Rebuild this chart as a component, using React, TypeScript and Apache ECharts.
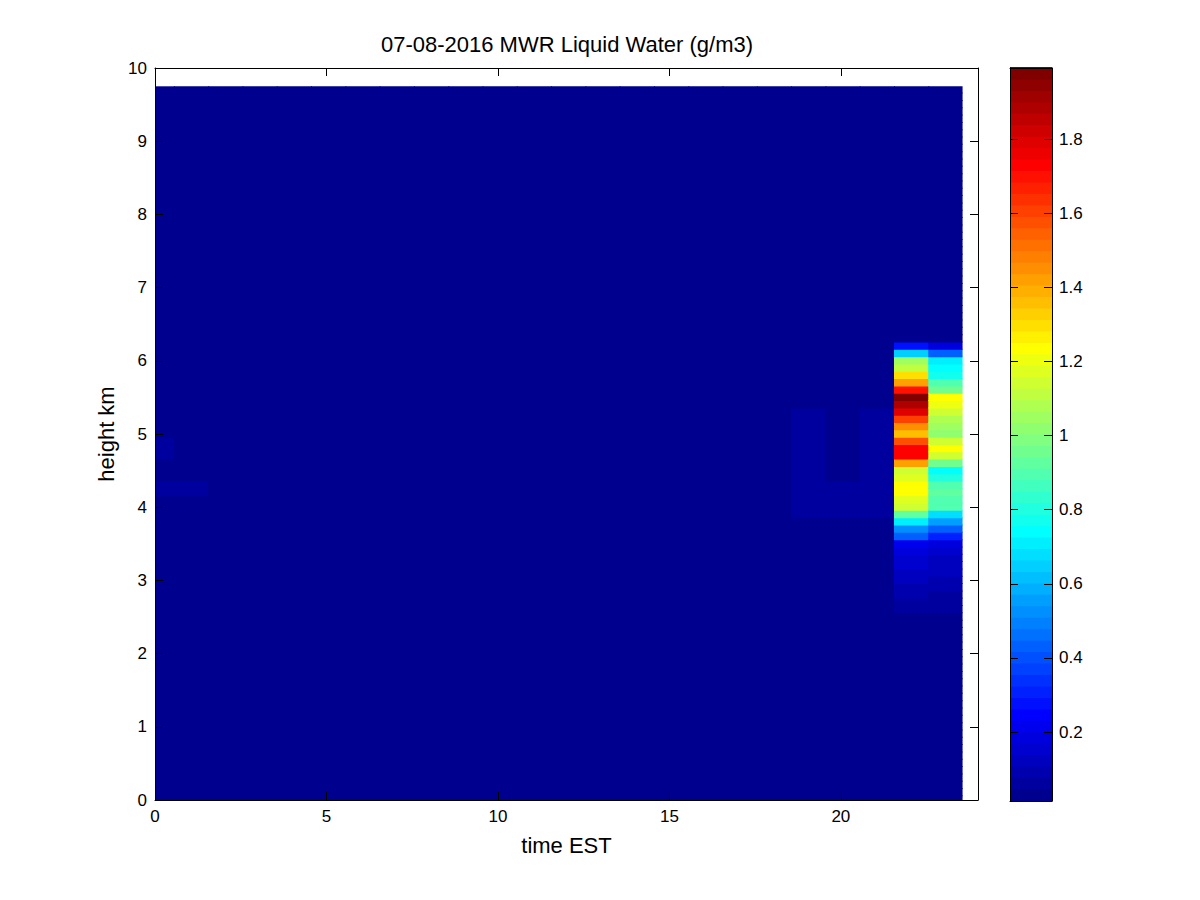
import React, { useEffect, useRef } from "react";
import * as echarts from "echarts";

const TITLE = "07-08-2016 MWR Liquid Water (g/m3)";
const X_NAME = "time EST";
const Y_NAME = "height km";

// time grid cell edges (hours EST)
const timeEdges = [
  0, 0.55, 1.55, 2.55, 3.55, 4.55, 5.55, 6.55, 7.55, 8.55, 9.55, 10.55, 11.55,
  12.55, 13.55, 14.55, 15.55, 16.55, 17.55, 18.55, 19.55, 20.55, 21.55, 22.55, 23.55,
];
// height grid cell edges (km): 0, 0.05, 0.15, ... 9.75
const heightEdges = [0, ...Array.from({ length: 98 }, (_, k) => Math.round((0.05 + 0.1 * k) * 100) / 100)];

const xTicks = [0, 5, 10, 15, 20];
const yTicks = [0, 1, 2, 3, 4, 5, 6, 7, 8, 9, 10];
const colorTicks = [0.2, 0.4, 0.6, 0.8, 1, 1.2, 1.4, 1.6, 1.8];

const cMin = 0.014;
const cMax = 1.992;
const backgroundLWC = 0.014;

// vertical profiles (g/m3), rows from 2.55 km upward in 0.1 km steps
const profileBottom = 2.55;
const lwc2155 = [
  0.06, 0.07, 0.09, 0.1, 0.12, 0.13, 0.15, 0.16, 0.18, 0.2,
  0.42, 0.52, 0.7, 0.92, 1.13, 1.18, 1.22, 1.22, 1.18, 1.15,
  1.42, 1.72, 1.72, 1.58, 1.37, 1.46, 1.62, 1.79, 1.87, 1.99,
  1.7, 1.42, 1.3, 1.12, 1.05, 0.65, 0.28,
];
const lwc2255 = [
  0.05, 0.06, 0.07, 0.09, 0.1, 0.11, 0.12, 0.13, 0.15, 0.17,
  0.3, 0.42, 0.55, 0.69, 0.88, 0.9, 0.92, 0.9, 0.8, 0.75,
  0.96, 1.15, 1.22, 1.13, 1.03, 1.05, 1.08, 1.13, 1.2, 1.22,
  0.95, 0.88, 0.76, 0.74, 0.7, 0.43, 0.17,
];

// faint patches: [time start, height bottom, height top, value]
const faintPatches = [
  [0, 4.65, 4.95, 0.05],
  [0, 4.15, 4.35, 0.05],
  [0.55, 4.15, 4.35, 0.05],
  [18.55, 3.85, 5.35, 0.05],
  [19.55, 3.85, 4.35, 0.05],
  [20.55, 3.85, 5.35, 0.05],
];

const FONT = "'Liberation Sans', Arial, Helvetica, sans-serif";

function jetColormap(m: number): string[] {
  const n = Math.ceil(m / 4);
  const u: number[] = [];
  for (let i = 1; i <= n; i++) u.push(i / n);
  for (let i = 0; i < n - 1; i++) u.push(1);
  for (let i = n; i >= 1; i--) u.push(i / n);
  const base = Math.ceil(n / 2) - (m % 4 === 1 ? 1 : 0);
  const g = u.map((_, k) => base + k + 1);
  const r = g.map((v) => v + n);
  const b = g.map((v) => v - n);
  const J = Array.from({ length: m }, () => [0, 0, 0]);
  r.filter((v) => v <= m).forEach((row, k) => (J[row - 1][0] = u[k]));
  g.filter((v) => v <= m).forEach((row, k) => (J[row - 1][1] = u[k]));
  const bKeep = b.filter((v) => v >= 1);
  bKeep.forEach((row, k) => (J[row - 1][2] = u[u.length - bKeep.length + k]));
  return J.map(([R, G, B]) => `rgb(${Math.round(R * 255)},${Math.round(G * 255)},${Math.round(B * 255)})`);
}

const near = (a: number, b: number) => Math.abs(a - b) < 1e-6;

function buildCells() {
  const nT = timeEdges.length - 1;
  const nH = heightEdges.length - 1;
  const grid = Array.from({ length: nT }, () => Array(nH).fill(backgroundLWC));
  faintPatches.forEach(([t0, h0, h1, v]) => {
    const j = timeEdges.findIndex((t) => near(t, t0));
    for (let i = 0; i < nH; i++) {
      if (heightEdges[i] >= h0 - 1e-6 && heightEdges[i + 1] <= h1 + 1e-6) grid[j][i] = v;
    }
  });
  const iBase = heightEdges.findIndex((h) => near(h, profileBottom));
  ([[21.55, lwc2155], [22.55, lwc2255]] as [number, number[]][]).forEach(([t0, prof]) => {
    const j = timeEdges.findIndex((t) => near(t, t0));
    prof.forEach((v, k) => (grid[j][iBase + k] = v));
  });
  const cells: number[][] = [];
  for (let j = 0; j < nT; j++) {
    for (let i = 0; i < nH; i++) {
      cells.push([timeEdges[j], timeEdges[j + 1], heightEdges[i], heightEdges[i + 1], grid[j][i]]);
    }
  }
  return cells;
}

export default function App() {
  const ref = useRef<HTMLDivElement>(null);
  useEffect(() => {
    if (!ref.current) return;
    const chart = echarts.init(ref.current, undefined, { renderer: "svg" });
    const jet = jetColormap(64);
    const step = (cMax - cMin) / 64;
    const pieces = jet.map((c, i) => {
      if (i === 0) return { lt: cMin + step, color: c };
      if (i === 63) return { gte: cMin + 63 * step, color: c };
      return { gte: cMin + i * step, lt: cMin + (i + 1) * step, color: c };
    });
    const barData = jet.map((_, i) => [0, 1, cMin + i * step, cMin + (i + 1) * step, cMin + (i + 0.5) * step]);

    const cells = buildCells();
    const cellRender = (params: any, api: any) => {
      const p0 = api.coord([api.value(0), api.value(2)]);
      const p1 = api.coord([api.value(1), api.value(3)]);
      const color = api.visual("color");
      const isRightEdge = near(api.value(1), timeEdges[timeEdges.length - 1]);
      const isTopEdge = near(api.value(3), heightEdges[heightEdges.length - 1]);
      const x = p0[0];
      const y = p1[1] - (isTopEdge ? 0 : 1);
      const w = p1[0] - p0[0] + (isRightEdge ? 0 : 1);
      const h = p0[1] - p1[1] + (isTopEdge ? 0 : 1);
      return {
        type: "rect",
        shape: { x, y, width: w, height: h },
        style: { fill: color },
      };
    };
    const barRender = (params: any, api: any) => {
      const p0 = api.coord([api.value(0), api.value(2)]);
      const p1 = api.coord([api.value(1), api.value(3)]);
      const color = api.visual("color");
      return {
        type: "rect",
        shape: { x: p0[0], y: p1[1] - 1, width: p1[0] - p0[0], height: p0[1] - p1[1] + 1 },
        style: { fill: color },
      };
    };

    const axisLine = { show: true, onZero: false, lineStyle: { color: "#000", width: 1 } };
    const tick = { show: true, inside: true, length: 8, lineStyle: { color: "#000", width: 1 } };
    const label = { color: "#000", fontSize: 17, fontFamily: FONT };
    const nameStyle = { color: "#000", fontSize: 22, fontFamily: FONT };

    chart.setOption({
      animation: false,
      backgroundColor: "#fff",
      graphic: [
        {
          type: "text",
          x: 567,
          y: 44,
          style: { text: TITLE, fontSize: 22, fontFamily: FONT, fill: "#000", align: "center", verticalAlign: "middle" },
        },
      ],
      grid: [
        { left: 155, top: 68, width: 823, height: 732 },
        { left: 1010, top: 68, width: 42, height: 733 },
      ],
      visualMap: [{ type: "piecewise", show: false, dimension: 4, seriesIndex: [0, 1], pieces }],
      xAxis: [
        {
          gridIndex: 0, type: "value", min: 0, max: 24, interval: 5, position: "bottom", z: 10,
          axisLine, axisTick: { ...tick, customValues: xTicks }, splitLine: { show: false },
          axisLabel: { ...label, margin: 8, customValues: xTicks },
          name: X_NAME, nameLocation: "middle", nameGap: 34, nameTextStyle: nameStyle,
        },
        {
          gridIndex: 0, type: "value", min: 0, max: 24, interval: 5, position: "top", z: 10,
          axisLine, axisTick: { ...tick, customValues: xTicks }, splitLine: { show: false }, axisLabel: { show: false },
        },
        {
          gridIndex: 1, type: "value", min: 0, max: 1, position: "bottom", z: 10,
          axisLine, axisTick: { show: false }, splitLine: { show: false }, axisLabel: { show: false },
        },
        {
          gridIndex: 1, type: "value", min: 0, max: 1, position: "top", z: 10,
          axisLine, axisTick: { show: false }, splitLine: { show: false }, axisLabel: { show: false },
        },
      ],
      yAxis: [
        {
          gridIndex: 0, type: "value", min: 0, max: 10, interval: 1, position: "left", z: 10,
          axisLine, axisTick: tick, splitLine: { show: false },
          axisLabel: { ...label, margin: 8, customValues: yTicks },
          name: Y_NAME, nameLocation: "middle", nameGap: 37, nameRotate: 90, nameTextStyle: nameStyle,
        },
        {
          gridIndex: 0, type: "value", min: 0, max: 10, interval: 1, position: "right", z: 10,
          axisLine, axisTick: tick, splitLine: { show: false }, axisLabel: { show: false },
        },
        {
          gridIndex: 1, type: "value", min: cMin, max: cMax, position: "left", z: 10,
          axisLine, axisTick: { ...tick, customValues: colorTicks }, splitLine: { show: false },
          axisLabel: { show: false, customValues: colorTicks },
        },
        {
          gridIndex: 1, type: "value", min: cMin, max: cMax, position: "right", z: 10,
          axisLine, axisTick: { ...tick, customValues: colorTicks }, splitLine: { show: false },
          axisLabel: { ...label, margin: 7, customValues: colorTicks, formatter: (v: number) => String(v) },
        },
      ],
      series: [
        {
          type: "custom", xAxisIndex: 0, yAxisIndex: 0, renderItem: cellRender,
          encode: { x: [0, 1], y: [2, 3] }, data: cells, progressive: 0, silent: true,
        },
        {
          type: "custom", xAxisIndex: 2, yAxisIndex: 2, renderItem: barRender,
          encode: { x: [0, 1], y: [2, 3] }, data: barData, progressive: 0, silent: true,
        },
      ],
    });
    return () => chart.dispose();
  }, []);
  return <div ref={ref} style={{ position: "fixed", left: 0, top: 0, width: 1200, height: 900 }} />;
}
